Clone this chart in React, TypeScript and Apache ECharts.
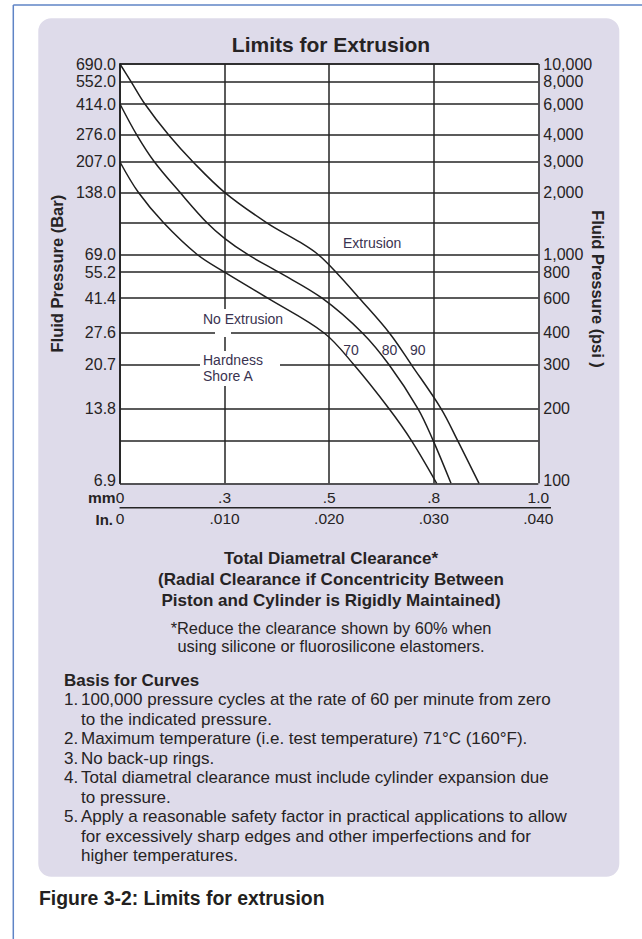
import React, { useEffect, useRef } from 'react';
import * as echarts from 'echarts';

const FONT = "'Liberation Sans', Arial, Helvetica, sans-serif";
const INK = '#262324';
const PLOT_INK = '#3a3350';
const GRID_INK = '#252525';

// Pressure grid lines (psi), top to bottom, with matching labels
const PSI_TICKS = [10000, 8000, 6000, 4000, 3000, 2000, 1500, 1000, 800, 600, 400, 300, 200, 150, 100];
const PSI_LABELS = ['10,000', '8,000', '6,000', '4,000', '3,000', '2,000', '', '1,000', '800', '600', '400', '300', '200', '', '100'];
const BAR_LABELS = ['690.0', '552.0', '414.0', '276.0', '207.0', '138.0', '', '69.0', '55.2', '41.4', '27.6', '20.7', '13.8', '', '6.9'];
// The chart's own non-uniform pressure scale: fraction of the axis height (from the top) of each grid line
const PSI_SCALE = [0, 0.0425, 0.0954, 0.1689, 0.2337, 0.306, 0.3787, 0.4543, 0.4966, 0.5586, 0.6415, 0.7174, 0.8223, 0.8982, 1];

// Clearance axis
const IN_LABELS = ['0', '.010', '.020', '.030', '.040'];
const MM_LABELS = ['0', '.3', '.5', '.8', '1.0'];

// Curves: total diametral clearance (in.) vs fluid pressure (psi)
const HARD_70_IN = [0, 0.00175, 0.00417, 0.00738, 0.0100, 0.01413, 0.01952, 0.02237, 0.02573, 0.02787, 0.03028];
const HARD_70_PSI = [3000, 2000, 1500, 1000, 800, 600, 400, 300, 200, 150, 100];

const HARD_80_IN = [0, 0.0016, 0.0033, 0.00573, 0.00832, 0.0100, 0.01221, 0.01519, 0.01933, 0.02318, 0.02573, 0.0285, 0.02995, 0.03165];
const HARD_80_PSI = [6000, 4000, 3000, 2000, 1500, 1230, 1000, 800, 600, 400, 300, 200, 150, 100];

const HARD_90_IN = [0, 0.00107, 0.00238, 0.00464, 0.00699, 0.0100, 0.01404, 0.01721, 0.01894, 0.02066, 0.02289, 0.02576, 0.02787, 0.03071, 0.03229, 0.03433];
const HARD_90_PSI = [10000, 8000, 6000, 4000, 3000, 2000, 1500, 1170, 1000, 800, 600, 400, 300, 200, 150, 100];

const BASIS_ITEMS = [
  ['1.', '100,000 pressure cycles at the rate of 60 per minute from zero', 'to the indicated pressure.'],
  ['2.', 'Maximum temperature (i.e. test temperature) 71°C (160°F).'],
  ['3.', 'No back-up rings.'],
  ['4.', 'Total diametral clearance must include cylinder expansion due', 'to pressure.'],
  ['5.', 'Apply a reasonable safety factor in practical applications to allow', 'for excessively sharp edges and other imperfections and for', 'higher temperatures.'],
];

function toScale(psi: number): number {
  for (let i = 0; i < PSI_TICKS.length - 1; i++) {
    const a = PSI_TICKS[i];
    const b = PSI_TICKS[i + 1];
    if (psi <= a && psi >= b) {
      const t = (Math.log(a) - Math.log(psi)) / (Math.log(a) - Math.log(b));
      return PSI_SCALE[i] + t * (PSI_SCALE[i + 1] - PSI_SCALE[i]);
    }
  }
  return psi > PSI_TICKS[0] ? 0 : 1;
}

function scaleLabel(v: number, labels: string[]): string {
  const i = PSI_SCALE.findIndex((s) => Math.abs(s - v) < 1e-6);
  if (i < 0) return '';
  // the bottom label sits a little above its grid line
  return i === PSI_SCALE.length - 1 ? `{lo|${labels[i]}}` : labels[i];
}

function txt(text: string, x: number, y: number, size: number, opts: any = {}) {
  const align = opts.align || 'left';
  const valign = opts.valign || 'middle';
  return {
    type: 'text',
    x,
    y,
    rotation: opts.rotation || 0,
    z: opts.z ?? 5,
    style: {
      text,
      fontSize: size,
      fontFamily: FONT,
      fontWeight: opts.bold ? 'bold' : 'normal',
      fill: opts.color || INK,
      align,
      verticalAlign: valign,
      textAlign: align,
      textVerticalAlign: valign,
      lineHeight: opts.lineHeight,
    },
  };
}

export default function App() {
  const ref = useRef<HTMLDivElement>(null);

  useEffect(() => {
    if (!ref.current) return;
    const chart = echarts.init(ref.current, undefined, { renderer: 'svg' });

    const mkSeries = (name: string, xs: number[], ps: number[]) => ({
      name,
      type: 'line',
      xAxisIndex: 0,
      yAxisIndex: 0,
      smooth: 0.35,
      symbol: 'none',
      z: 4,
      lineStyle: { color: '#1f1f1f', width: 1.5 },
      data: xs.map((x, i) => [x, toScale(ps[i])]),
    });

    const graphics: any[] = [];
    // page frame
    graphics.push({ type: 'line', z: -20, shape: { x1: 13.3, y1: 5, x2: 642, y2: 5 }, style: { stroke: '#5f84c6', lineWidth: 1.5 } });
    graphics.push({ type: 'line', z: -20, shape: { x1: 13.3, y1: 5, x2: 13.3, y2: 939 }, style: { stroke: '#5f84c6', lineWidth: 1.5 } });
    // lavender panel
    graphics.push({ type: 'rect', z: -10, shape: { x: 38.3, y: 18.3, width: 581, height: 858.4, r: 13 }, style: { fill: '#dedbea' } });
    // separator between mm and inch rows
    graphics.push({ type: 'line', z: 3, shape: { x1: 119.6, y1: 507.8, x2: 551, y2: 507.8 }, style: { stroke: GRID_INK, lineWidth: 1.5 } });
    graphics.push(txt('mm', 115.5, 497.5, 15.5, { bold: true, align: 'right' }));
    graphics.push(txt('In.', 113, 519, 15, { bold: true, align: 'right' }));
    // right axis title (reads top to bottom)
    graphics.push(txt('Fluid Pressure (psi )', 597.5, 289, 16.4, { bold: true, align: 'center', rotation: -Math.PI / 2 }));
    // white masks behind in-plot annotations
    graphics.push({ type: 'rect', z: 1, shape: { x: 200, y: 309, width: 86, height: 21 }, style: { fill: '#fff' } });
    graphics.push({ type: 'rect', z: 1, shape: { x: 215, y: 328, width: 16, height: 9 }, style: { fill: '#fff' } });
    graphics.push({ type: 'rect', z: 1, shape: { x: 200, y: 351, width: 80, height: 35 }, style: { fill: '#fff' } });
    // in-plot labels
    graphics.push(txt('Extrusion', 343, 243.3, 14, { color: PLOT_INK }));
    graphics.push(txt('No Extrusion', 203, 319.3, 14, { color: PLOT_INK }));
    graphics.push(txt('Hardness', 203, 360, 14, { color: PLOT_INK }));
    graphics.push(txt('Shore A', 203, 375.7, 14, { color: PLOT_INK }));
    graphics.push(txt('70', 343.3, 350, 14, { color: PLOT_INK }));
    graphics.push(txt('80', 381.7, 350, 14, { color: PLOT_INK }));
    graphics.push(txt('90', 410, 350, 14, { color: PLOT_INK }));
    // below-plot notes
    graphics.push(
      txt('Total Diametral Clearance*\n(Radial Clearance if Concentricity Between\nPiston and Cylinder is Rigidly Maintained)', 331, 547.5, 17, {
        bold: true,
        align: 'center',
        valign: 'top',
        lineHeight: 21,
      })
    );
    graphics.push(
      txt('*Reduce the clearance shown by 60% when\nusing silicone or fluorosilicone elastomers.', 331, 618.5, 16.4, {
        align: 'center',
        valign: 'top',
        lineHeight: 18.5,
      })
    );
    graphics.push(txt('Basis for Curves', 64, 680, 17, { bold: true }));
    const LH = 19.5;
    let row = 1;
    BASIS_ITEMS.forEach((item) => {
      const y = 680 + row * LH;
      graphics.push(txt(item[0], 64, y, 17));
      graphics.push(txt(item.slice(1).join('\n'), 81, y - LH / 2, 17, { valign: 'top', lineHeight: LH }));
      row += item.length - 1;
    });
    graphics.push(txt('Figure 3-2: Limits for extrusion', 39, 898, 19.4, { bold: true, color: '#231f20' }));

    const axisLabelBase = { fontSize: 16, fontFamily: FONT, color: INK };
    const richLo = { lo: { fontSize: 16, fontFamily: FONT, color: INK, padding: [0, 0, 6, 0] } };
    const lineStyle = { color: GRID_INK, width: 1.5 };

    chart.setOption({
      animation: false,
      title: {
        text: 'Limits for Extrusion',
        left: 331,
        top: 33.5,
        padding: 0,
        textAlign: 'center',
        textStyle: { fontSize: 21, fontWeight: 'bold', fontFamily: FONT, color: INK },
      },
      grid: { left: 120, right: 103.7, top: 64, bottom: 455.7, show: true, backgroundColor: '#ffffff', borderWidth: 0 },
      xAxis: [
        {
          type: 'value',
          min: 0,
          max: 0.04,
          interval: 0.01,
          position: 'bottom',
          axisLine: { show: true, lineStyle },
          axisTick: { show: false },
          splitLine: { show: true, lineStyle },
          axisLabel: { ...axisLabelBase, fontSize: 15.5, margin: 6, formatter: (v: number) => MM_LABELS[Math.round(v * 100)] ?? '' },
        },
        {
          type: 'value',
          min: 0,
          max: 0.04,
          interval: 0.01,
          position: 'bottom',
          offset: 22,
          axisLine: { show: false },
          axisTick: { show: false },
          splitLine: { show: false },
          axisLabel: { ...axisLabelBase, fontSize: 15.5, margin: 5.5, formatter: (v: number) => IN_LABELS[Math.round(v * 100)] ?? '' },
        },
      ],
      yAxis: [
        {
          type: 'value',
          min: 0,
          max: 1,
          inverse: true,
          position: 'left',
          name: 'Fluid Pressure (Bar)',
          nameLocation: 'middle',
          nameGap: 55,
          nameTextStyle: { fontSize: 16.5, fontWeight: 'bold', fontFamily: FONT, color: INK },
          axisLine: { show: true, lineStyle },
          axisTick: { show: false, customValues: PSI_SCALE },
          splitLine: { show: true, lineStyle },
          axisLabel: { ...axisLabelBase, margin: 4, customValues: PSI_SCALE, rich: richLo, formatter: (v: number) => scaleLabel(v, BAR_LABELS) },
        },
        {
          type: 'value',
          min: 0,
          max: 1,
          inverse: true,
          position: 'right',
          axisLine: { show: true, lineStyle },
          axisTick: { show: false, customValues: PSI_SCALE },
          splitLine: { show: false },
          axisLabel: { ...axisLabelBase, margin: 5, customValues: PSI_SCALE, rich: richLo, formatter: (v: number) => scaleLabel(v, PSI_LABELS) },
        },
      ],
      series: [
        mkSeries('70', HARD_70_IN, HARD_70_PSI),
        mkSeries('80', HARD_80_IN, HARD_80_PSI),
        mkSeries('90', HARD_90_IN, HARD_90_PSI),
      ],
      graphic: graphics,
    });

    return () => chart.dispose();
  }, []);

  return <div ref={ref} style={{ position: 'absolute', left: 0, top: 0, width: 642, height: 939 }} />;
}
